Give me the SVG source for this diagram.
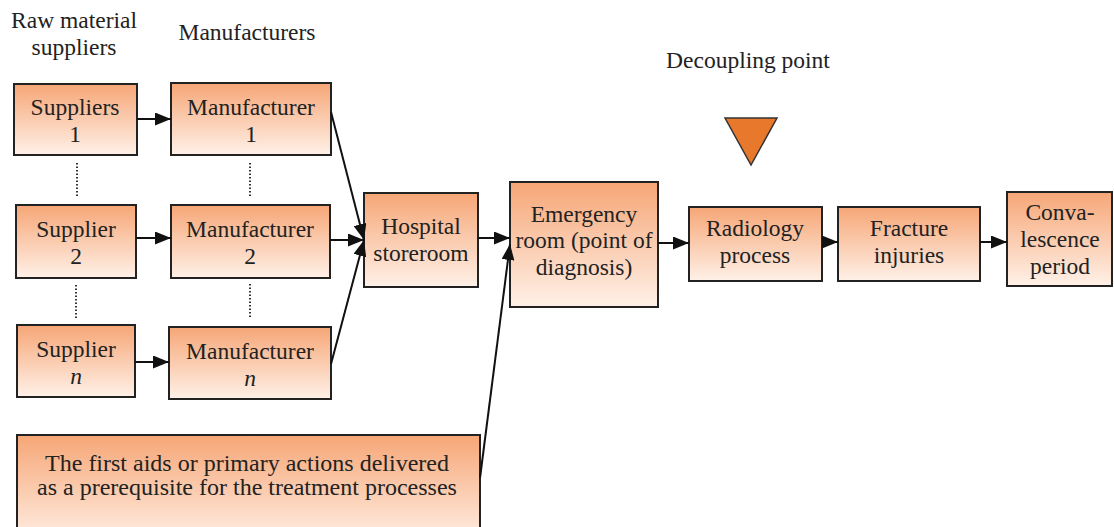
<svg xmlns="http://www.w3.org/2000/svg" width="1114" height="527" viewBox="0 0 1114 527">
<defs>
<linearGradient id="g" x1="0" y1="0" x2="0" y2="1">
<stop offset="0" stop-color="#f6a676"/>
<stop offset="1" stop-color="#fff1e8"/>
</linearGradient>
<marker id="ah" viewBox="0 0 16 13" refX="16" refY="6.5" markerWidth="16" markerHeight="13" markerUnits="userSpaceOnUse" orient="auto">
<path d="M0,0 L16,6.5 L0,13 Z" fill="#111"/>
</marker>
<style>
.box{fill:url(#g);stroke:#222;stroke-width:2}
text{font-family:'Liberation Serif','Times New Roman',serif;font-size:23.5px;fill:#222;text-anchor:middle}
.big{font-size:24px}
.c{stroke:#111;stroke-width:2;fill:none;marker-end:url(#ah)}
.d{stroke:#333;stroke-width:2;stroke-dasharray:1.5 2;fill:none}
</style>
</defs>
<rect width="1114" height="527" fill="#fff"/>
<g id="headers">
<text x="74" y="28">Raw material</text>
<text x="74" y="55">suppliers</text>
<text x="247" y="40">Manufacturers</text>
<text x="748" y="68">Decoupling point</text>
</g>
<g id="decoupling-point">
<path d="M725,118 L777,118 L751,165 Z" fill="#e8782b" stroke="#333" stroke-width="1.5"/>
</g>
<g id="supplier1"><rect class="box" x="14" y="84" width="123" height="71"/>
<text x="75" y="115">Suppliers</text><text x="75" y="142">1</text></g>
<g id="supplier2"><rect class="box" x="16" y="205" width="120" height="73"/>
<text x="76" y="237">Supplier</text><text x="76" y="264">2</text></g>
<g id="suppliern"><rect class="box" x="17" y="325" width="118" height="72"/>
<text x="76" y="357">Supplier</text><text x="76" y="384" font-style="italic">n</text></g>
<g id="manufacturer1"><rect class="box" x="171" y="83" width="160" height="72"/>
<text x="251" y="115">Manufacturer</text><text x="251" y="142">1</text></g>
<g id="manufacturer2"><rect class="box" x="171" y="205" width="159" height="73"/>
<text x="250" y="237">Manufacturer</text><text x="250" y="264">2</text></g>
<g id="manufacturern"><rect class="box" x="169" y="327" width="162" height="72"/>
<text x="250" y="359">Manufacturer</text><text x="250" y="386" font-style="italic">n</text></g>
<g id="hospital-storeroom"><rect class="box" x="364" y="193" width="114" height="94"/>
<text x="421" y="234">Hospital</text><text x="421" y="261">storeroom</text></g>
<g id="emergency-room"><rect class="box" x="510" y="182" width="148" height="125"/>
<text x="584" y="222">Emergency</text><text x="584" y="248">room (point of</text><text x="584" y="275">diagnosis)</text></g>
<g id="radiology"><rect class="box" x="689" y="207" width="133" height="74"/>
<text x="755" y="236">Radiology</text><text x="755" y="263">process</text></g>
<g id="fracture"><rect class="box" x="838" y="207" width="142" height="74"/>
<text x="909" y="236">Fracture</text><text x="909" y="263">injuries</text></g>
<g id="convalescence"><rect class="box" x="1007" y="192" width="105" height="94"/>
<text x="1060" y="220">Conva-</text><text x="1060" y="247">lescence</text><text x="1060" y="274">period</text></g>
<g id="first-aid"><rect class="box" x="17" y="435" width="463" height="110"/>
<text class="big" x="247" y="471">The first aids or primary actions delivered</text>
<text class="big" x="247" y="495">as a prerequisite for the treatment processes</text></g>
<g id="connectors">
<line class="c" x1="137" y1="119" x2="171" y2="119"/>
<line class="c" x1="136" y1="238" x2="171" y2="238"/>
<line class="c" x1="135" y1="362" x2="169" y2="362"/>
<line class="c" x1="331" y1="112" x2="364" y2="240"/>
<line class="c" x1="330" y1="240" x2="364" y2="240"/>
<line class="c" x1="331" y1="364" x2="364" y2="240"/>
<line class="c" x1="478" y1="238" x2="510" y2="238"/>
<line class="c" x1="480" y1="478" x2="510" y2="244"/>
<line class="c" x1="658" y1="243" x2="689" y2="243"/>
<line class="c" x1="822" y1="242" x2="838" y2="242"/>
<line class="c" x1="980" y1="242" x2="1007" y2="242"/>
<line class="d" x1="77" y1="163" x2="77" y2="197"/>
<line class="d" x1="76" y1="285" x2="76" y2="318"/>
<line class="d" x1="250" y1="163" x2="250" y2="197"/>
<line class="d" x1="250" y1="284" x2="250" y2="317"/>
</g>
</svg>
